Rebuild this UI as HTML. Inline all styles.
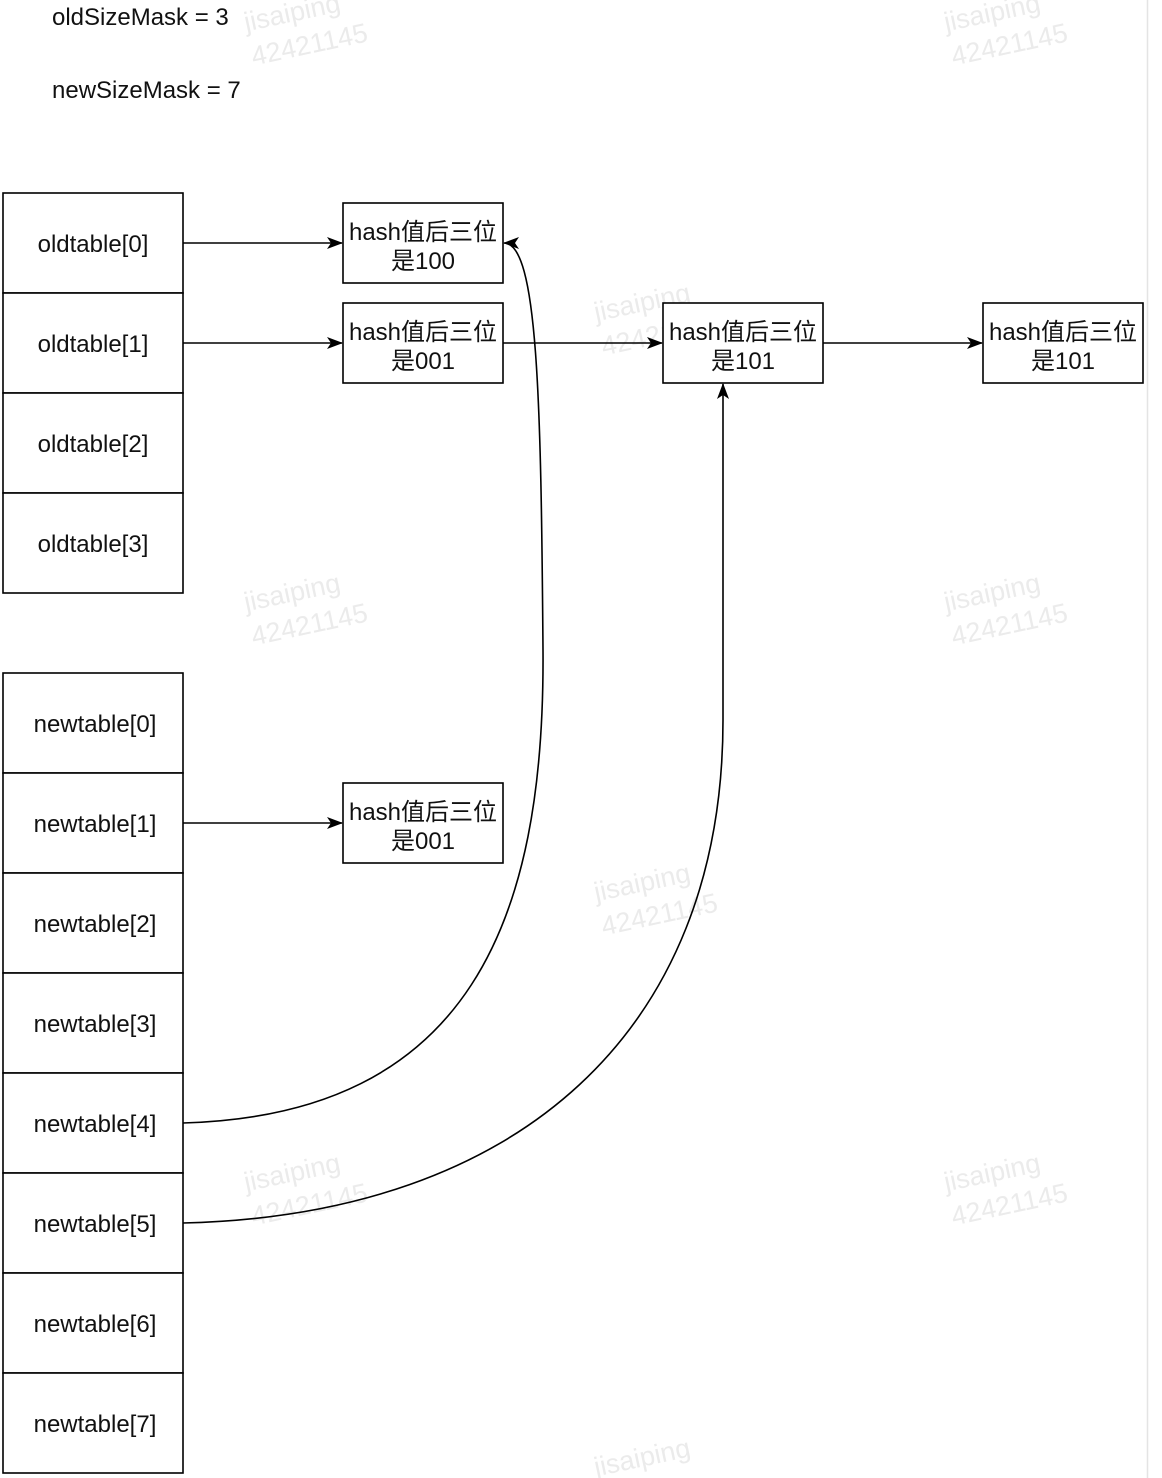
<!DOCTYPE html>
<html><head><meta charset="utf-8"><style>
html,body{margin:0;padding:0;background:#fff;}
svg{display:block;}
text{font-family:"Liberation Sans","Noto Sans CJK SC",sans-serif;}
</style></head><body>
<svg width="1162" height="1478" viewBox="0 0 1162 1478" xmlns="http://www.w3.org/2000/svg">
<defs>
<marker id="a" markerWidth="16" markerHeight="12" refX="15" refY="6" orient="auto" markerUnits="userSpaceOnUse">
<path d="M0,0 L16,6 L0,12 L4,6 Z" fill="#000"/>
</marker>
</defs>
<rect width="1162" height="1478" fill="#fff"/>
<line x1="1147.5" y1="0" x2="1147.5" y2="1478" stroke="#e4e4e4" stroke-width="1.5"/>
<g fill="#ebebeb" font-size="27">
<g transform="rotate(-12 300 20)"><text x="245" y="20">jisaiping</text><text x="245" y="55">42421145</text></g>
<g transform="rotate(-12 1000 20)"><text x="945" y="20">jisaiping</text><text x="945" y="55">42421145</text></g>
<g transform="rotate(-12 650 310)"><text x="595" y="310">jisaiping</text><text x="595" y="345">42421145</text></g>
<g transform="rotate(-12 300 600)"><text x="245" y="600">jisaiping</text><text x="245" y="635">42421145</text></g>
<g transform="rotate(-12 1000 600)"><text x="945" y="600">jisaiping</text><text x="945" y="635">42421145</text></g>
<g transform="rotate(-12 650 890)"><text x="595" y="890">jisaiping</text><text x="595" y="925">42421145</text></g>
<g transform="rotate(-12 300 1180)"><text x="245" y="1180">jisaiping</text><text x="245" y="1215">42421145</text></g>
<g transform="rotate(-12 1000 1180)"><text x="945" y="1180">jisaiping</text><text x="945" y="1215">42421145</text></g>
<g transform="rotate(-12 650 1465)"><text x="595" y="1465">jisaiping</text></g>
</g>
<g font-size="24" fill="#111">
<text x="52" y="25">oldSizeMask = 3</text>
<text x="52" y="98">newSizeMask = 7</text>
</g>
<g stroke="#000" stroke-width="1.6" fill="#fff">
<rect x="3" y="193" width="180" height="100"/>
<rect x="3" y="293" width="180" height="100"/>
<rect x="3" y="393" width="180" height="100"/>
<rect x="3" y="493" width="180" height="100"/>
<rect x="3" y="673" width="180" height="100"/>
<rect x="3" y="773" width="180" height="100"/>
<rect x="3" y="873" width="180" height="100"/>
<rect x="3" y="973" width="180" height="100"/>
<rect x="3" y="1073" width="180" height="100"/>
<rect x="3" y="1173" width="180" height="100"/>
<rect x="3" y="1273" width="180" height="100"/>
<rect x="3" y="1373" width="180" height="100"/>
<rect x="343" y="203" width="160" height="80"/>
<rect x="343" y="303" width="160" height="80"/>
<rect x="663" y="303" width="160" height="80"/>
<rect x="983" y="303" width="160" height="80"/>
<rect x="343" y="783" width="160" height="80"/>
</g>
<g font-size="24" fill="#111" text-anchor="middle">
<text x="93" y="252">oldtable[0]</text>
<text x="93" y="352">oldtable[1]</text>
<text x="93" y="452">oldtable[2]</text>
<text x="93" y="552">oldtable[3]</text>
<text x="95" y="732">newtable[0]</text>
<text x="95" y="832">newtable[1]</text>
<text x="95" y="932">newtable[2]</text>
<text x="95" y="1032">newtable[3]</text>
<text x="95" y="1132">newtable[4]</text>
<text x="95" y="1232">newtable[5]</text>
<text x="95" y="1332">newtable[6]</text>
<text x="95" y="1432">newtable[7]</text>
<text x="423" y="240">hash值后三位</text><text x="423" y="269">是100</text>
<text x="423" y="340">hash值后三位</text><text x="423" y="369">是001</text>
<text x="743" y="340">hash值后三位</text><text x="743" y="369">是101</text>
<text x="1063" y="340">hash值后三位</text><text x="1063" y="369">是101</text>
<text x="423" y="820">hash值后三位</text><text x="423" y="849">是001</text>
</g>
<g stroke="#000" stroke-width="1.6" fill="none">
<line x1="183" y1="243" x2="342" y2="243" marker-end="url(#a)"/>
<line x1="183" y1="343" x2="342" y2="343" marker-end="url(#a)"/>
<line x1="503" y1="343" x2="662" y2="343" marker-end="url(#a)"/>
<line x1="823" y1="343" x2="982" y2="343" marker-end="url(#a)"/>
<line x1="183" y1="823" x2="342" y2="823" marker-end="url(#a)"/>
<path d="M183,1123 C470,1115 545,920 543,650 C541,400 538,243 504,243" marker-end="url(#a)"/>
<path d="M183,1223 C520,1215 723,1030 723,720 L723,384" marker-end="url(#a)"/>
</g>
</svg>
</body></html>
